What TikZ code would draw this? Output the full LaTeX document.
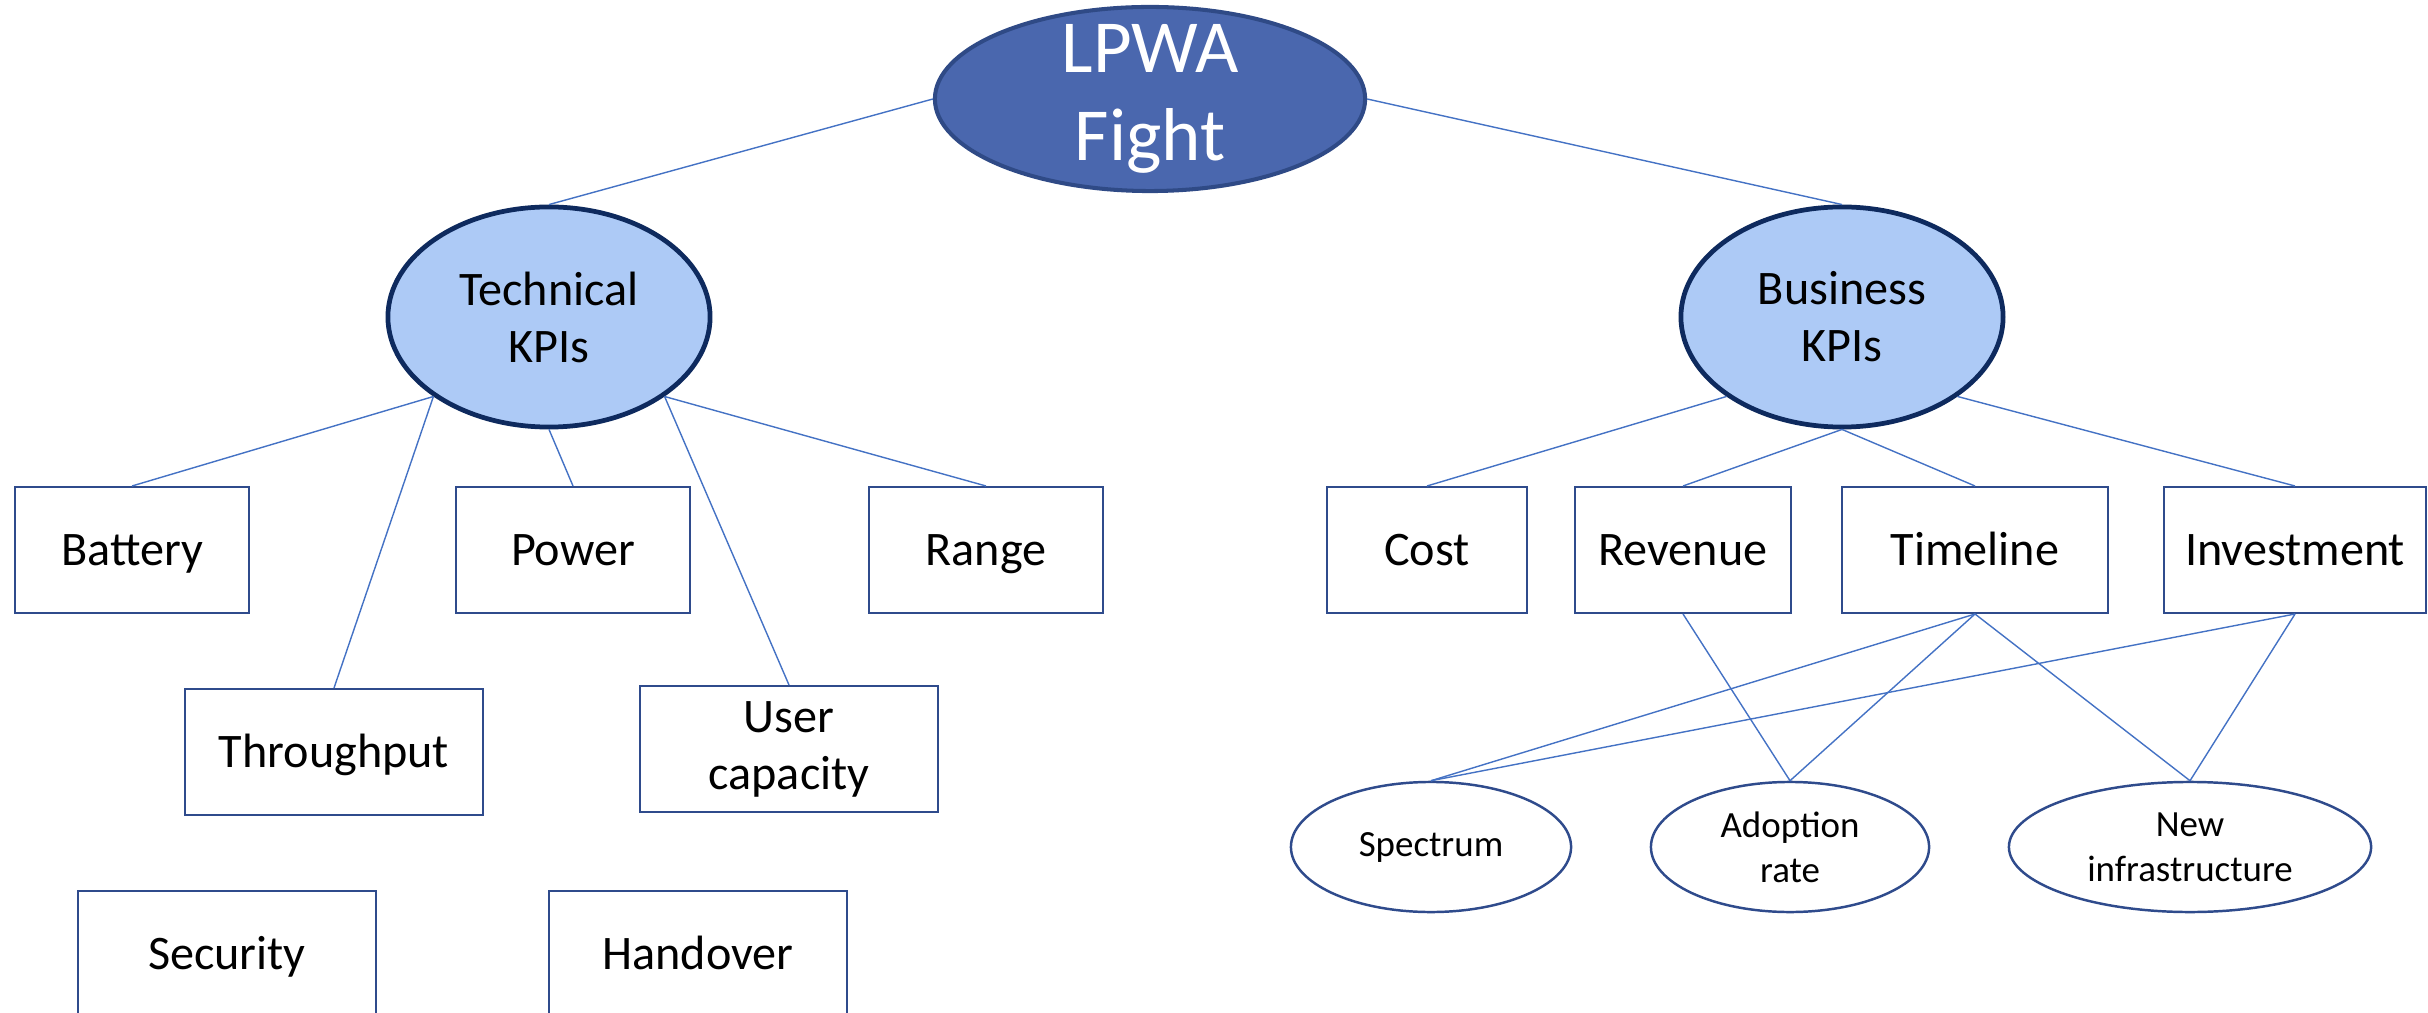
\documentclass[tikz,border=0pt]{standalone}
\usepackage{fontspec}
\setmainfont{Carlito}
\usetikzlibrary{shapes.geometric}
\definecolor{topfill}{HTML}{4A67AE}
\definecolor{topline}{HTML}{2F4A86}
\definecolor{kpifill}{HTML}{ADCAF6}
\definecolor{kpiline}{HTML}{0E2A5E}
\definecolor{boxline}{HTML}{2F4B8C}
\definecolor{linkblue}{HTML}{4472C4}

\begin{document}
\begin{tikzpicture}
	[x=0.01cm,y=-0.01cm,
	topnode/.style={shape=ellipse,draw=topline,fill=topfill,line width=1.15pt,inner xsep=0pt,inner ysep=-4pt,minimum width=4.3cm,minimum height=1.84cm,text=white,align=center,font=\fontsize{21.3}{25}\selectfont},
	kpinode/.style={shape=ellipse,draw=kpiline,fill=kpifill,line width=1.35pt,inner sep=0pt,minimum width=3.22cm,minimum height=2.2cm,align=center,font=\fontsize{13.7}{16.2}\selectfont},
	kpibox/.style={shape=rectangle,draw=boxline,fill=white,line width=0.55pt,inner sep=0pt,minimum height=1.26cm,align=center,font=\fontsize{13.7}{16.2}\selectfont},
	oneline/.style={text height=11pt,text depth=2.4pt},
	subnode/.style={shape=ellipse,draw=boxline,fill=white,line width=0.7pt,inner sep=0pt,minimum height=1.3cm,align=center,font=\fontsize{10.5}{12.8}\selectfont},
	link/.style={-,draw=linkblue,line width=0.4pt}]
	\useasboundingbox (0,0) rectangle (2428,1013);
	\clip (0,0) rectangle (2428,1013);
	\node[topnode] (lpwa) at (1150,99) {LPWA\\Fight};
	\node[kpinode] (tech) at (549,317) {Technical\\KPIs};
	\node[kpinode] (bus) at (1842,317) {Business\\KPIs};
	% technical side
	\node[kpibox,oneline,minimum width=2.34cm] (battery) at (132,550) {Battery};
	\node[kpibox,oneline,minimum width=2.34cm] (power) at (573,550) {Power};
	\node[kpibox,oneline,minimum width=2.34cm] (range) at (986,550) {Range};
	\node[kpibox,oneline,minimum width=2.97cm] (through) at (334,752) {Throughput};
	\node[kpibox,minimum width=2.98cm] (usercap) at (789,749) {User\\capacity};
	\node[kpibox,oneline,minimum width=2.98cm] (security) at (227,954) {Security};
	\node[kpibox,oneline,minimum width=2.98cm] (handover) at (698,954) {Handover};
	% business side
	\node[kpibox,oneline,minimum width=1.99cm] (cost) at (1427,550) {Cost};
	\node[kpibox,oneline,minimum width=2.15cm] (revenue) at (1683,550) {Revenue};
	\node[kpibox,oneline,minimum width=2.65cm] (timeline) at (1975,550) {Timeline};
	\node[kpibox,oneline,minimum width=2.61cm] (invest) at (2295,550) {Investment};
	\node[subnode,minimum width=2.8cm] (spectrum) at (1431,847) {Spectrum};
	\node[subnode,minimum width=2.78cm] (adoption) at (1790,847) {Adoption\\rate};
	\node[subnode,minimum width=3.62cm] (newinfra) at (2190,847) {New\\infrastructure};
	\path
	\foreach \startNode/\endNode in {lpwa.west/tech.north,lpwa.east/bus.north,
		tech.south west/battery.north,tech.south west/through.north,
		tech.south/power.north,tech.south east/usercap.north,
		tech.south east/range.north,bus.south west/cost.north,
		bus.south/revenue.north,bus.south/timeline.north,
		bus.south east/invest.north,revenue.south/adoption.north,
		timeline.south/spectrum.north,timeline.south/adoption.north,
		timeline.south/newinfra.north,invest.south/spectrum.north,
		invest.south/newinfra.north}
	{
		(\startNode) edge[link] (\endNode)
	};
\end{tikzpicture}
\end{document}
